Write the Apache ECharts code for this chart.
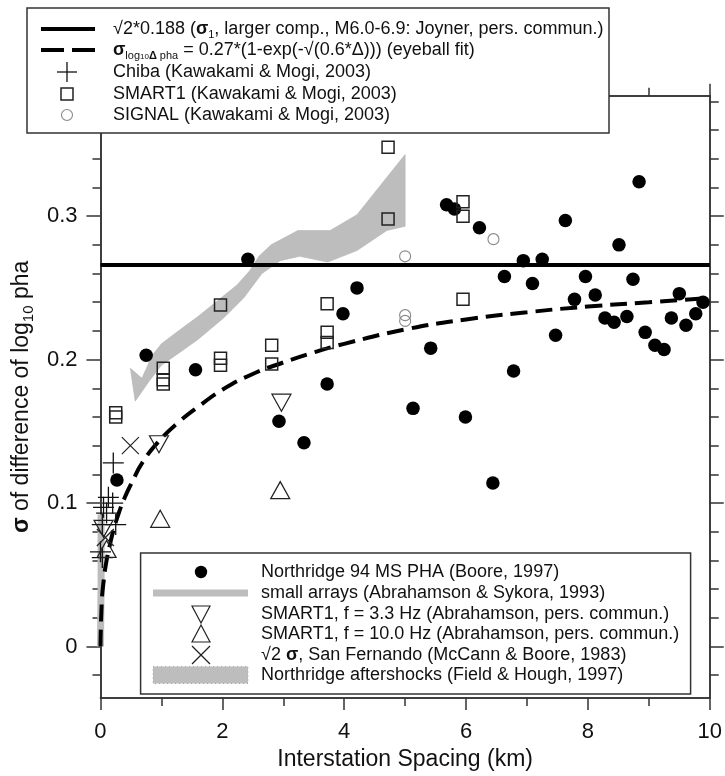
<!DOCTYPE html>
<html><head><meta charset="utf-8">
<script src="https://cdn.jsdelivr.net/npm/echarts@6/dist/echarts.min.js"></script>
<style>html,body{margin:0;padding:0;background:#fff}#c{width:725px;height:776px}</style>
</head><body><div id="c"></div>
<script>
// ---------------- data ----------------
const northridge94 = [
  [0.27,0.116],[0.75,0.203],[1.56,0.193],[2.42,0.270],[2.93,0.157],[3.34,0.142],
  [3.72,0.183],[3.98,0.232],[4.21,0.250],[5.13,0.166],[5.42,0.208],[5.68,0.308],
  [5.81,0.305],[5.99,0.160],[6.22,0.292],[6.44,0.114],[6.63,0.258],[6.78,0.192],
  [6.94,0.269],[7.09,0.253],[7.25,0.270],[7.47,0.217],[7.63,0.297],[7.78,0.242],
  [7.96,0.258],[8.12,0.245],[8.28,0.229],[8.43,0.226],[8.51,0.280],[8.64,0.230],
  [8.74,0.256],[8.84,0.324],[8.94,0.219],[9.10,0.210],[9.25,0.207],[9.37,0.229],
  [9.50,0.246],[9.61,0.224],[9.77,0.232],[9.89,0.240]
];
const smart1KM = [
  [0.25,0.163],[0.25,0.160],[1.03,0.194],[1.03,0.186],[1.03,0.183],[1.97,0.238],
  [1.97,0.201],[1.97,0.196],[2.81,0.210],[2.81,0.197],[3.72,0.239],[3.72,0.219],
  [3.72,0.212],[4.72,0.348],[4.72,0.298],[5.95,0.310],[5.95,0.300],[5.95,0.242]
];
const signalKM = [[5.0,0.272],[5.0,0.231],[5.0,0.227],[6.45,0.284]];
const chibaKM = [
  [0.21,0.128],[0.13,0.104],[0.20,0.100],[0.05,0.097],[0.10,0.093],
  [0.25,0.085],[0.03,0.085],[0.0,0.066],[0.03,0.062]
];
const smart1f33 = [[0.05,0.082],[0.96,0.141],[2.97,0.170]];
const smart1f10 = [[0.10,0.068],[0.98,0.089],[2.95,0.109]];
const sanFernando = [[0.08,0.076],[0.49,0.140]];
const joynerLevel = [[0,0.266],[10,0.266]];
const eyeballFitX = [0,0.02,0.05,0.1,0.15,0.2,0.3,0.4,0.5,0.7,1.0,1.3,1.6,2.0,2.5,3.0,3.5,4.0,5.0,6.0,7.0,8.0,9.0,10.0];
const eyeballFitY = [0,0.03,0.045,0.06,0.07,0.079,0.093,0.104,0.113,0.129,0.145,0.157,0.167,0.179,0.19,0.198,0.205,0.211,0.221,0.228,0.233,0.237,0.240,0.243];
const smallArrays = [[0.0,0.0],[0.01,0.045],[0.01,0.092]];
const aftershockUpper = [
  [0.49,0.194],[0.68,0.187],[0.85,0.203],[1.0,0.211],[1.31,0.221],[1.6,0.230],
  [1.92,0.241],[2.24,0.252],[2.45,0.262],[2.6,0.272],[2.8,0.280],[3.24,0.290],
  [3.77,0.290],[4.21,0.301],[5.0,0.343]
];
const aftershockLower = [
  [0.57,0.171],[0.8,0.185],[1.0,0.196],[1.3,0.205],[1.6,0.214],[2.02,0.229],
  [2.35,0.243],[2.65,0.260],[2.95,0.269],[3.27,0.272],[3.73,0.268],[4.21,0.276],
  [4.7,0.290],[5.0,0.293]
];
const yLabelValues = [0,0.1,0.2,0.3];
const yMinorValues = [-0.02,0.02,0.04,0.06,0.08,0.12,0.14,0.16,0.18,0.22,0.24,0.26,0.28,0.32,0.34,0.36,0.38];

// ---------------- chart ----------------
const FF = "'Liberation Sans', Arial, Helvetica, sans-serif";
const AX = '#333';
const chart = echarts.init(document.getElementById('c'), null, {renderer:'canvas'});

function xAx(pos, interval, len, labels){
  return {type:'value', position:pos, min:0, max:10, interval:interval,
    axisLine:{show:true, onZero:false, lineStyle:{color:AX, width:1.5}},
    axisTick:{show:true, inside:false, length:len, lineStyle:{color:AX, width:1.5}},
    axisLabel:{show:labels, fontSize:22, fontFamily:FF, color:'#111', margin:23},
    splitLine:{show:false}};
}
function yAx(pos, vals, len, labels){
  return {type:'value', position:pos, min:-0.036, max:0.384,
    axisLine:{show:true, onZero:false, lineStyle:{color:AX, width:1.5}},
    axisTick:{show:true, inside:false, length:len, customValues:vals, lineStyle:{color:AX, width:1.5}},
    axisLabel:{show:labels, customValues:vals, fontSize:22, fontFamily:FF, color:'#111', margin:23,
      formatter: v => (Math.abs(v) < 1e-9 ? '0' : v.toFixed(1))},
    splitLine:{show:false}};
}
const xAxes = [xAx('bottom',2,12,true), xAx('bottom',1,8,false), xAx('top',2,12,false), xAx('top',1,8,false)];
xAxes[0].name = 'Interstation Spacing (km)';
xAxes[0].nameLocation = 'middle';
xAxes[0].nameGap = 40;
xAxes[0].nameTextStyle = {fontSize:23, fontFamily:FF, color:'#111'};
const yAxes = [yAx('left',yLabelValues,14,true), yAx('left',yMinorValues,8,false), yAx('right',yLabelValues,14,false), yAx('right',yMinorValues,9,false)];
yAxes[0].name = '{b|σ} of difference of log{s|10} pha';
yAxes[0].nameLocation = 'middle';
yAxes[0].nameGap = 61;
yAxes[0].nameTextStyle = {fontSize:23, fontFamily:FF, color:'#111', lineHeight:28,
  rich:{b:{fontSize:23, fontWeight:'bold', fontFamily:FF, color:'#111', lineHeight:28},
        s:{fontSize:15, fontFamily:FF, color:'#111', lineHeight:14, verticalAlign:'bottom'}}};

const option = {
  animation:false,
  backgroundColor:'#fff',
  grid:{left:100, right:14.3, top:95.7, bottom:71.5, containLabel:false},
  xAxis:xAxes,
  yAxis:yAxes,
  series:[
    {type:'custom', name:'Northridge aftershocks', z:1, clip:false, data:aftershockUpper,
      renderItem:function(params, api){
        if (params.dataIndex !== 0) return null;
        const poly = aftershockUpper.concat(aftershockLower.slice().reverse()).map(p => api.coord(p));
        return {type:'polygon', shape:{points:poly}, style:{fill:'#bdbdbd', stroke:'#b3b3b3', lineWidth:0.6}};
      }},
    {type:'line', name:'small arrays', z:2, clip:false, data:smallArrays, symbol:'none',
      lineStyle:{color:'#bdbdbd', width:7}},
    {type:'line', name:'joyner', z:3, data:joynerLevel, symbol:'none',
      lineStyle:{color:'#000', width:4}},
    {type:'line', name:'eyeball fit', z:3, clip:false, smooth:true, symbol:'none',
      data:eyeballFitX.map((x,i)=>[x, eyeballFitY[i]]),
      lineStyle:{color:'#000', width:4, type:[17,8]}},
    {type:'scatter', name:'Northridge 94', z:5, data:northridge94, symbol:'circle', symbolSize:13.5,
      itemStyle:{color:'#000', opacity:1}},
    {type:'scatter', name:'SMART1 K&M', z:6, data:smart1KM, symbol:'rect', symbolSize:12,
      itemStyle:{color:'rgba(0,0,0,0)', borderColor:'#222', borderWidth:1.5, opacity:1}},
    {type:'scatter', name:'SIGNAL', z:6, data:signalKM, symbol:'circle', symbolSize:11,
      itemStyle:{color:'rgba(0,0,0,0)', borderColor:'#888', borderWidth:1.1, opacity:1}},
    {type:'scatter', name:'Chiba', z:6, clip:false, data:chibaKM, symbol:'path://M0,10L20,10M10,0L10,20', symbolSize:21,
      itemStyle:{color:'rgba(0,0,0,0)', borderColor:'#111', borderWidth:1.3, opacity:1}},
    {type:'scatter', name:'SMART1 3.3', z:6, clip:false, data:smart1f33, symbol:'path://M0,0L20,0L10,18Z', symbolSize:[19,17],
      itemStyle:{color:'rgba(0,0,0,0)', borderColor:'#222', borderWidth:1.2, opacity:1}},
    {type:'scatter', name:'SMART1 10', z:6, clip:false, data:smart1f10, symbol:'path://M10,0L20,18L0,18Z', symbolSize:[19,17],
      itemStyle:{color:'rgba(0,0,0,0)', borderColor:'#222', borderWidth:1.2, opacity:1}},
    {type:'scatter', name:'San Fernando', z:6, clip:false, data:sanFernando, symbol:'path://M0,0L20,20M20,0L0,20', symbolSize:17,
      itemStyle:{color:'rgba(0,0,0,0)', borderColor:'#222', borderWidth:1.2, opacity:1}}
  ],
  graphic:{elements:buildLegends()}
};

function txt(x, y, text, rich){
  return {type:'text', z:101, style:{x:x, y:y, text:text, fontSize:18, fontFamily:FF, fill:'#111',
    verticalAlign:'middle', align:'left', lineHeight:22, rich:rich || {}}};
}
function buildLegends(){
  const el = [];
  const richTop = {
    b:{fontSize:18, fontWeight:'bold', fontFamily:FF, fill:'#111', lineHeight:22},
    s:{fontSize:11, fontFamily:FF, fill:'#111', lineHeight:12, verticalAlign:'bottom'},
    ss:{fontSize:8, fontFamily:FF, fill:'#111', lineHeight:8, verticalAlign:'bottom'},
    sb:{fontSize:11, fontWeight:'bold', fontFamily:FF, fill:'#111', lineHeight:12, verticalAlign:'bottom'}
  };
  // top legend
  el.push({type:'rect', z:100, shape:{x:27, y:8, width:582, height:125}, style:{fill:'#fff', stroke:'#333', lineWidth:1.5}});
  const R = [29, 50, 72, 94, 115];
  const mx = 67, tx = 113;
  el.push({type:'line', z:101, shape:{x1:41, y1:R[0], x2:95, y2:R[0]}, style:{stroke:'#000', lineWidth:4}});
  el.push({type:'line', z:101, shape:{x1:41, y1:R[1], x2:95, y2:R[1]}, style:{stroke:'#000', lineWidth:4, lineDash:[23,8]}});
  el.push({type:'line', z:101, shape:{x1:mx-10, y1:R[2], x2:mx+10, y2:R[2]}, style:{stroke:'#111', lineWidth:1.3}});
  el.push({type:'line', z:101, shape:{x1:mx, y1:R[2]-10, x2:mx, y2:R[2]+10}, style:{stroke:'#111', lineWidth:1.3}});
  el.push({type:'rect', z:101, shape:{x:mx-6, y:R[3]-6, width:12, height:12}, style:{fill:'none', stroke:'#222', lineWidth:1.5}});
  el.push({type:'circle', z:101, shape:{cx:mx, cy:R[4], r:5.5}, style:{fill:'none', stroke:'#888', lineWidth:1.1}});
  el.push(txt(tx, R[0], '√2*0.188 ({b|σ}{s|1}, larger comp., M6.0-6.9: Joyner, pers. commun.)', richTop));
  el.push(txt(tx, R[1], '{b|σ}{s|log}{ss|10}{sb|Δ}{s| pha} = 0.27*(1-exp(-√(0.6*Δ))) (eyeball fit)', richTop));
  el.push(txt(tx, R[2], 'Chiba (Kawakami & Mogi, 2003)'));
  el.push(txt(tx, R[3], 'SMART1 (Kawakami & Mogi, 2003)'));
  el.push(txt(tx, R[4], 'SIGNAL (Kawakami & Mogi, 2003)'));
  // bottom legend
  el.push({type:'rect', z:100, shape:{x:140.6, y:553, width:550, height:141}, style:{fill:'#fff', stroke:'#333', lineWidth:1.5}});
  const B = [572, 593, 614, 634, 655, 675];
  const bx = 201, btx = 261;
  el.push({type:'circle', z:101, shape:{cx:bx, cy:B[0], r:6.2}, style:{fill:'#000'}});
  el.push({type:'line', z:101, shape:{x1:153, y1:B[1], x2:248, y2:B[1]}, style:{stroke:'#bdbdbd', lineWidth:7}});
  el.push({type:'polygon', z:101, shape:{points:[[bx-9,B[2]-8],[bx+9,B[2]-8],[bx,B[2]+9]]}, style:{fill:'none', stroke:'#222', lineWidth:1.2}});
  el.push({type:'polygon', z:101, shape:{points:[[bx-9,B[3]+8],[bx+9,B[3]+8],[bx,B[3]-9]]}, style:{fill:'none', stroke:'#222', lineWidth:1.2}});
  el.push({type:'line', z:101, shape:{x1:bx-9, y1:B[4]-9, x2:bx+9, y2:B[4]+9}, style:{stroke:'#222', lineWidth:1.2}});
  el.push({type:'line', z:101, shape:{x1:bx+9, y1:B[4]-9, x2:bx-9, y2:B[4]+9}, style:{stroke:'#222', lineWidth:1.2}});
  el.push({type:'rect', z:101, shape:{x:153, y:B[5]-8.5, width:95, height:17}, style:{fill:'#bdbdbd', stroke:'#a8a8a8', lineWidth:1, lineDash:[1,3]}});
  el.push(txt(btx, B[0], 'Northridge 94 MS PHA (Boore, 1997)'));
  el.push(txt(btx, B[1], 'small arrays (Abrahamson & Sykora, 1993)'));
  el.push(txt(btx, B[2], 'SMART1, f = 3.3 Hz (Abrahamson, pers. commun.)'));
  el.push(txt(btx, B[3], 'SMART1, f = 10.0 Hz (Abrahamson, pers. commun.)'));
  el.push(txt(btx, B[4], '√2 {b|σ}, San Fernando (McCann & Boore, 1983)', richTop));
  el.push(txt(btx, B[5], 'Northridge aftershocks (Field & Hough, 1997)'));
  return el;
}
chart.setOption(option);
</script></body></html>
